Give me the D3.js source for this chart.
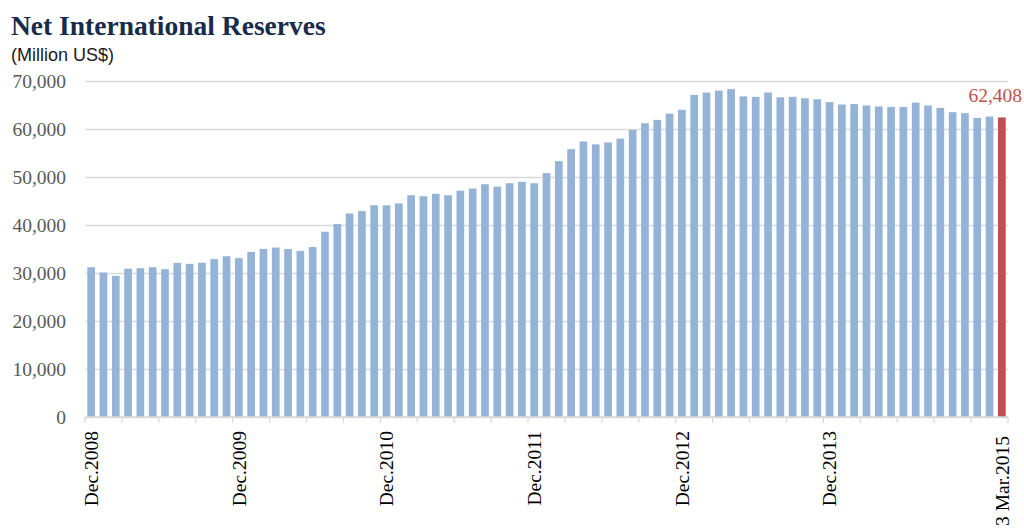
<!DOCTYPE html>
<html>
<head>
<meta charset="utf-8">
<script src="https://cdn.jsdelivr.net/npm/d3@7"></script>
<style>
  html, body { margin: 0; padding: 0; background: #ffffff; }
  svg { display: block; }
</style>
</head>
<body>
<svg id="chart" width="1024" height="529"></svg>
<script>
const categories = [
  "Dec.2008",
  "Jan.2009","Feb.2009","Mar.2009","Apr.2009","May.2009","Jun.2009","Jul.2009","Aug.2009","Sep.2009","Oct.2009","Nov.2009","Dec.2009",
  "Jan.2010","Feb.2010","Mar.2010","Apr.2010","May.2010","Jun.2010","Jul.2010","Aug.2010","Sep.2010","Oct.2010","Nov.2010","Dec.2010",
  "Jan.2011","Feb.2011","Mar.2011","Apr.2011","May.2011","Jun.2011","Jul.2011","Aug.2011","Sep.2011","Oct.2011","Nov.2011","Dec.2011",
  "Jan.2012","Feb.2012","Mar.2012","Apr.2012","May.2012","Jun.2012","Jul.2012","Aug.2012","Sep.2012","Oct.2012","Nov.2012","Dec.2012",
  "Jan.2013","Feb.2013","Mar.2013","Apr.2013","May.2013","Jun.2013","Jul.2013","Aug.2013","Sep.2013","Oct.2013","Nov.2013","Dec.2013",
  "Jan.2014","Feb.2014","Mar.2014","Apr.2014","May.2014","Jun.2014","Jul.2014","Aug.2014","Sep.2014","Oct.2014","Nov.2014","Dec.2014",
  "Jan.2015","3 Mar.2015"
];

const reserves = [
  31200,
  30100, 29400, 30900, 31000, 31200, 30800, 32100, 31900, 32150, 32900, 33500, 33100,
  34400, 35000, 35300, 35000, 34600, 35400, 38600, 40200, 42400, 42900, 44100, 44100,
  44500, 46200, 46000, 46500, 46200, 47150, 47600, 48500, 48000, 48700, 49000, 48700,
  50800, 53300, 55800, 57400, 56800, 57200, 58000, 59800, 61200, 61900, 63200, 64000,
  67100, 67600, 68000, 68300, 66800, 66700, 67600, 66600, 66700, 66400, 66200, 65600,
  65100, 65200, 64900, 64700, 64600, 64600, 65500, 64900, 64400, 63500, 63300, 62300,
  62600, 62408
];

const labeledCategories = ["Dec.2008", "Dec.2009", "Dec.2010", "Dec.2011", "Dec.2012", "Dec.2013", "3 Mar.2015"];
const highlightCategory = "3 Mar.2015";
const yTicks = [0, 10000, 20000, 30000, 40000, 50000, 60000, 70000];
const titleText = "Net International Reserves";
const subtitleText = "(Million US$)";

const svg = d3.select("#chart");
const plotLeft = 85, plotRight = 1008, plotTop = 81, plotBottom = 417;

const x = d3.scaleBand()
  .domain(categories)
  .range([plotLeft, plotRight])
  .paddingInner(0.375)
  .paddingOuter(0.1875);

const y = d3.scaleLinear()
  .domain([0, 70000])
  .range([plotBottom, plotTop]);

// Title & subtitle
svg.append("text")
  .attr("x", 11).attr("y", 35)
  .attr("font-family", "'Liberation Serif', 'Times New Roman', serif")
  .attr("font-weight", "bold")
  .attr("font-size", 27.5)
  .attr("fill", "#172b4a")
  .text(titleText);

svg.append("text")
  .attr("x", 11).attr("y", 61)
  .attr("font-family", "'Liberation Sans', Arial, sans-serif")
  .attr("font-size", 18)
  .attr("fill", "#1a1a1a")
  .text(subtitleText);

// Gridlines
const yAxis = d3.axisLeft(y)
  .tickValues(yTicks)
  .tickSize(-(plotRight - plotLeft))
  .tickPadding(19)
  .tickFormat(d3.format(","));

const gy = svg.append("g")
  .attr("transform", `translate(${plotLeft},0)`)
  .call(yAxis);
gy.select(".domain").remove();
gy.selectAll(".tick line")
  .attr("stroke", "#d9d9d9")
  .attr("stroke-width", 1.3);
gy.selectAll(".tick text")
  .attr("font-family", "'Liberation Serif', 'Times New Roman', serif")
  .attr("font-size", 19.5)
  .attr("fill", "#595959")
  .attr("dy", "0.34em");

// Bars
svg.append("g")
  .selectAll("rect")
  .data(reserves)
  .join("rect")
  .attr("x", (d, i) => x(categories[i]))
  .attr("y", d => y(d))
  .attr("width", x.bandwidth())
  .attr("height", d => y(0) - y(d))
  .attr("fill", (d, i) => categories[i] === highlightCategory ? "#c0504d" : "#95b3d7");

// X axis line and ticks
svg.append("line")
  .attr("x1", plotLeft).attr("x2", plotRight)
  .attr("y1", plotBottom).attr("y2", plotBottom)
  .attr("stroke", "#d9d9d9")
  .attr("stroke-width", 1.3);

const tickIdx = d3.range(0, categories.length + 1, 3);
if (tickIdx[tickIdx.length - 1] !== categories.length) tickIdx.push(categories.length);
const tickX = i => i < categories.length ? x(categories[i]) - x.step() * x.paddingOuter() : plotRight;
svg.append("g")
  .selectAll("line")
  .data(tickIdx)
  .join("line")
  .attr("x1", tickX)
  .attr("x2", tickX)
  .attr("y1", plotBottom)
  .attr("y2", plotBottom + 6)
  .attr("stroke", "#d9d9d9")
  .attr("stroke-width", 1.3);

// X labels (rotated)
svg.append("g")
  .selectAll("text")
  .data(labeledCategories)
  .join("text")
  .attr("transform", d => `translate(${x(d) + x.bandwidth() / 2},${d === highlightCategory ? 436 : 431}) rotate(-90)`)
  .attr("text-anchor", "end")
  .attr("dy", "0.35em")
  .attr("font-family", "'Liberation Serif', 'Times New Roman', serif")
  .attr("font-size", 19.5)
  .attr("fill", "#000")
  .text(d => d);

// Data label for the highlighted bar
const hiIndex = categories.indexOf(highlightCategory);
svg.append("text")
  .attr("x", 1022)
  .attr("y", 102)
  .attr("text-anchor", "end")
  .attr("font-family", "'Liberation Serif', 'Times New Roman', serif")
  .attr("font-size", 19.5)
  .attr("fill", "#c0504d")
  .text(d3.format(",")(reserves[hiIndex]));
</script>
</body>
</html>
